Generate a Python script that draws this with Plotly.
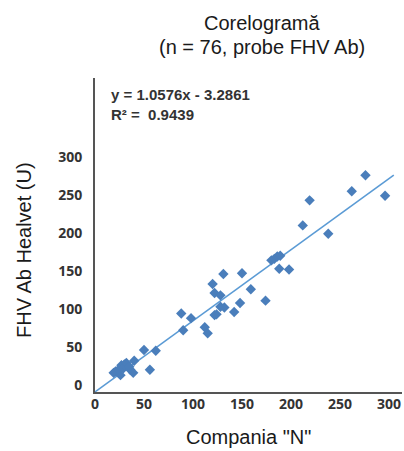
import numpy as np
import plotly.graph_objects as go

# Data (Compania "N" vs FHV Ab Healvet)
compania_n = [50, 62, 56, 40, 27, 30, 33, 29, 21, 19, 26, 36, 39, 24, 32, 35,
              88, 98, 90, 112, 115, 120, 122, 128, 131, 150, 159, 174, 148, 128,
              132, 142, 122, 124,
              180, 183, 186, 189, 188, 198, 212, 219, 238, 262, 276, 296]
healvet = [46, 45, 20, 32, 26, 27, 25, 22, 18, 16, 13, 20, 16, 20, 29, 24,
           94, 88, 72, 76, 68, 133, 121, 118, 146, 147, 126, 111, 108, 103,
           102, 96, 92, 93,
           164, 166, 169, 170, 153, 152, 210, 243, 199, 255, 276, 249]

tick_vals = [0, 50, 100, 150, 200, 250, 300]
tick_text = ["0", "50", "100", "150", "200", "250", "300"]

title_line1 = "Corelogramă"
title_line2 = "(n = 76, probe FHV Ab)"
eq_text = "y = 1.0576x - 3.2861<br>R² =  0.9439"
x_title = 'Compania "N"'
y_title = "FHV Ab Healvet (U)"

xa = np.array(compania_n, dtype=float)
ya = np.array(healvet, dtype=float)
slope, intercept = np.polyfit(xa, ya, 1)
x_line = np.array([0.0, xa.max() * 1.03])
y_line = slope * x_line + intercept

W, H = 404, 451
L, R, T, B = 95, 2, 78, 59
pw, ph = W - L - R, H - T - B

def px_x(p):
    return (p - L) / pw

def px_y(p):
    return (H - B - p) / ph

fig = go.Figure()
fig.add_trace(go.Scatter(x=x_line, y=y_line, mode="lines",
                         line=dict(color="#5b9bd5", width=1.6),
                         hoverinfo="skip", showlegend=False))
fig.add_trace(go.Scatter(x=compania_n, y=healvet, mode="markers",
                         marker=dict(symbol="diamond", size=8, color="#4a7ebb",
                                     line=dict(width=0)),
                         showlegend=False))

tickfont = dict(family="Open Sans", size=14, color="#333333", weight="bold")
fig.update_layout(
    width=W, height=H,
    margin=dict(l=L, r=R, t=T, b=B, pad=0),
    paper_bgcolor="white", plot_bgcolor="white",
    xaxis=dict(range=[0, pw / 0.98], tickvals=tick_vals, ticktext=tick_text,
               showgrid=False, zeroline=False, showline=True,
               linecolor="#555555", linewidth=2, ticks="", tickfont=tickfont,
               ticklabelstandoff=-2),
    yaxis=dict(range=[-9.2, -9.2 + ph / 0.76], tickvals=tick_vals, ticktext=tick_text,
               showgrid=False, zeroline=False, showline=True,
               linecolor="#555555", linewidth=2, ticks="", tickfont=tickfont,
               ticklabelstandoff=8),
    annotations=[
        dict(text=title_line1, x=px_x(262), y=px_y(23), xref="paper", yref="paper",
             showarrow=False, xanchor="center", yanchor="middle",
             font=dict(family="Liberation Sans", size=20, color="#1a1a1a")),
        dict(text=title_line2, x=px_x(262), y=px_y(47), xref="paper", yref="paper",
             showarrow=False, xanchor="center", yanchor="middle",
             font=dict(family="Liberation Sans", size=20, color="#1a1a1a")),
        dict(text=eq_text, x=px_x(109), y=px_y(104), xref="paper", yref="paper",
             showarrow=False, xanchor="left", yanchor="middle", align="left",
             font=dict(family="Liberation Sans", size=15, color="#333333", weight="bold")),
        dict(text=x_title, x=px_x(248), y=px_y(437), xref="paper", yref="paper",
             showarrow=False, xanchor="center", yanchor="middle",
             font=dict(family="Liberation Sans", size=20, color="#1a1a1a")),
        dict(text=y_title, x=px_x(24), y=px_y(250), xref="paper", yref="paper",
             showarrow=False, xanchor="center", yanchor="middle", textangle=-90,
             font=dict(family="Liberation Sans", size=20, color="#1a1a1a")),
    ],
)

fig.write_html("out.html")
